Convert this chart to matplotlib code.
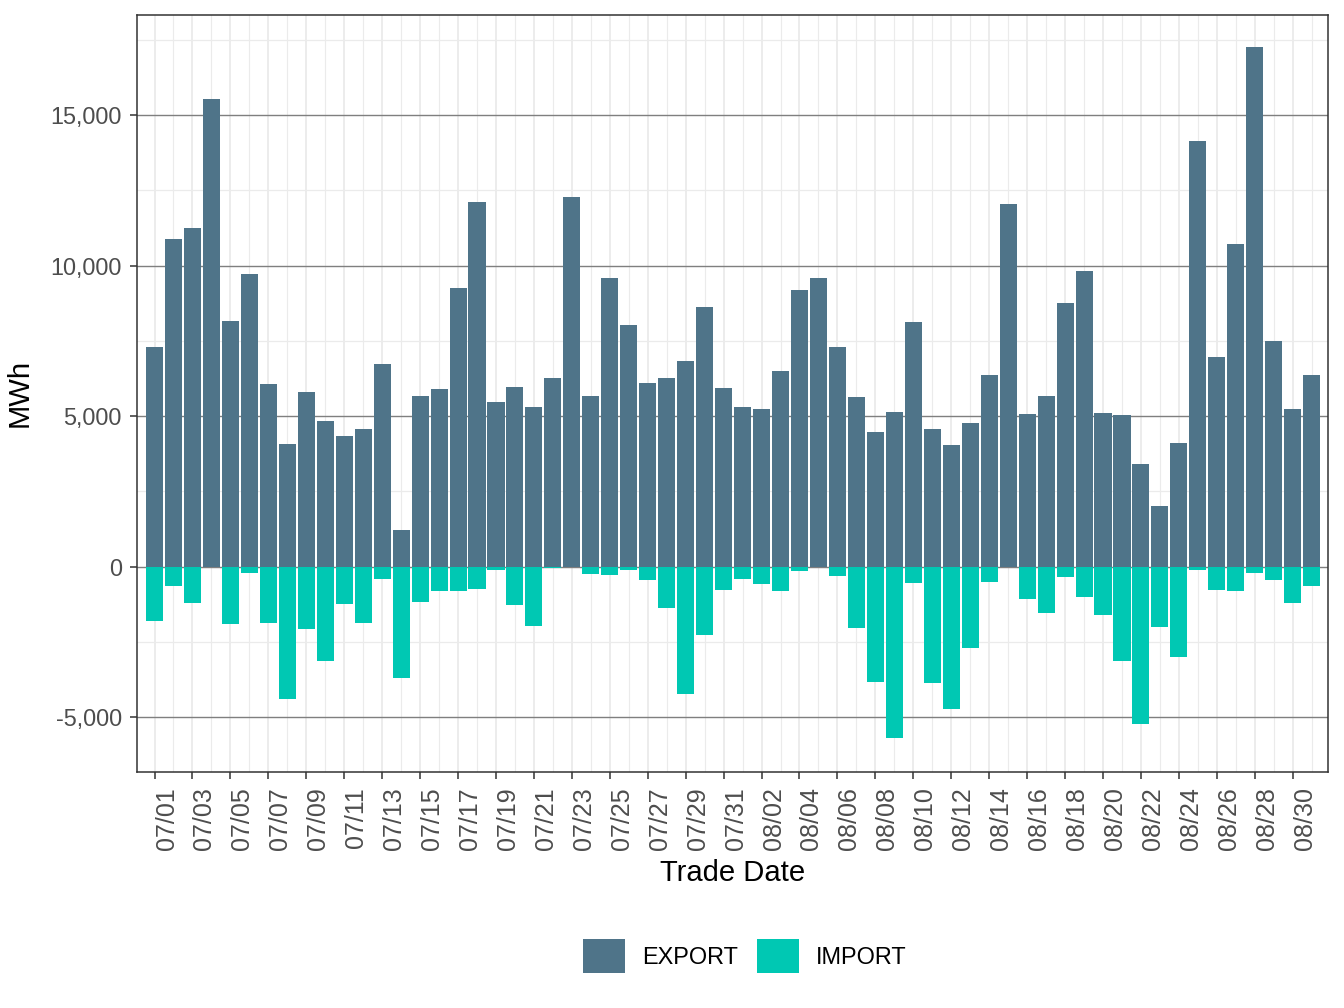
import matplotlib
matplotlib.use("Agg")
import matplotlib.pyplot as plt
from matplotlib.patches import Patch
from matplotlib.ticker import FuncFormatter, MultipleLocator
import numpy as np

plt.rcParams['font.family'] = ['Liberation Sans', 'DejaVu Sans']

dates = [f"07/{d:02d}" for d in range(1, 32)] + [f"08/{d:02d}" for d in range(1, 32)]

export_mwh = [7300, 10870, 11230, 15530, 8170, 9730, 6070, 4070, 5800, 4830,
              4330, 4570, 6730, 1230, 5670, 5900, 9270, 12100, 5470, 5970,
              5300, 6270, 12270, 5670, 9600, 8030, 6100, 6270, 6830, 8630,
              5930, 5300, 5230, 6500, 9200, 9600, 7300, 5630, 4470, 5130,
              8130, 4570, 4030, 4770, 6370, 12030, 5070, 5670, 8770, 9830,
              5100, 5030, 3400, 2030, 4100, 14130, 6970, 10700, 17270, 7500,
              5230, 6370]

import_mwh = [-1800, -640, -1210, 0, -1900, -210, -1870, -4400, -2070, -3130,
              -1240, -1870, -410, -3700, -1170, -810, -810, -740, -110, -1270,
              -1970, -30, 0, -240, -280, -110, -440, -1370, -4230, -2270,
              -780, -410, -580, -810, -140, 0, -310, -2040, -3830, -5690,
              -540, -3870, -4730, -2700, -510, 0, -1070, -1540, -340, -1010,
              -1610, -3130, -5230, -2000, -3000, -110, -780, -810, -210, -440,
              -1210, -640]

series_names = ["EXPORT", "IMPORT"]
colors = {"EXPORT": "#4F7489", "IMPORT": "#00C8B3"}

fig = plt.figure(figsize=(13.44, 10.08), dpi=100)
ax = fig.add_axes([0.1017, 0.2344, 0.9881 - 0.1017, 0.9851 - 0.2344])

x = np.arange(len(dates))

# grid
ax.set_axisbelow(True)
for xi in x:
    ax.axvline(xi, color="#EBEBEB", lw=1.3 if xi % 2 == 0 else 0.8, zorder=0)
for yv in np.arange(-7500, 20001, 2500):
    if yv % 5000 == 0:
        ax.axhline(yv, color="#7F7F7F", lw=1.0, zorder=0.5)
    else:
        ax.axhline(yv, color="#EBEBEB", lw=0.9, zorder=0)

ax.bar(x, export_mwh, width=0.9, color=colors["EXPORT"], zorder=2, linewidth=0)
ax.bar(x, import_mwh, width=0.9, color=colors["IMPORT"], zorder=2, linewidth=0)

ax.set_xlim(-0.94, 61.86)
ax.set_ylim(-6806, 18317)

ax.set_xticks(x[::2])
ax.set_xticklabels(dates[::2], rotation=90, va="top", ha="left")
ax.yaxis.set_major_locator(MultipleLocator(5000))
ax.yaxis.set_major_formatter(FuncFormatter(lambda v, p: f"{int(v):,}"))

ax.tick_params(axis="both", which="major", length=5.2, width=1.1, color="#333333",
               labelsize=16.9, labelcolor="#4D4D4D")
ax.tick_params(axis="x", pad=6, labelsize=18)
ax.tick_params(axis="y", pad=5.5)

for s in ax.spines.values():
    s.set_color("#333333")
    s.set_linewidth(1.1)
    s.set_zorder(5)

ax.set_xlabel("Trade Date", fontsize=21.1, color="black", labelpad=6)
ax.set_ylabel("MWh", fontsize=21.1, color="black", labelpad=12)

handles = [Patch(facecolor=colors[n], edgecolor="none", label=n) for n in series_names]
fig.legend(handles=handles, loc="center", bbox_to_anchor=(0.554, 0.0516), ncol=2,
           frameon=False, fontsize=16.9, handlelength=1.8, handleheight=1.8,
           handletextpad=0.72, columnspacing=0.8, borderaxespad=0)

fig.savefig("out.png", dpi=100)
